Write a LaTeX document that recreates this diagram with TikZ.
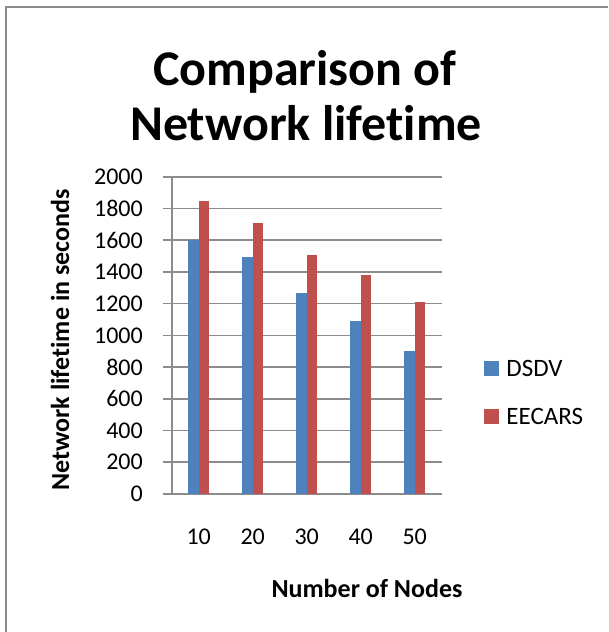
\documentclass[tikz,border=0pt]{standalone}
\usepackage{fontspec}
\setmainfont[Ligatures={NoCommon}]{Carlito}
\usetikzlibrary{positioning}
\definecolor{dsdvblue}{HTML}{4F81BD}
\definecolor{eecarsred}{HTML}{C0504D}
\definecolor{gridgray}{HTML}{8C8C8C}
\tikzset{gridline/.style = {draw=gridgray, line width=1.6pt},
         ticklabel/.style = {font=\fontsize{24}{28}\selectfont, inner sep=0pt},
         keylabel/.style = {font=\fontsize{25}{29}\selectfont, inner sep=0pt},
         axistitle/.style = {font=\bfseries\fontsize{26}{30}\selectfont, inner sep=0pt},
         charttitle/.style = {font=\bfseries\fontsize{50}{54}\selectfont, inner sep=0pt},
         key/.style = {minimum size=15pt, inner sep=0pt}}

\begin{document}
\begin{tikzpicture}[x=1pt, y=-1pt]
  \useasboundingbox (0,0) rectangle (608,632);

  % chart frame
  \draw[gridgray, line width=1.8pt] (6,632) -- (6,7) -- (608,7);

  % title
  \node [charttitle, anchor=base] (title1) at (305, 85)  {Comparison of};
  \node [charttitle, anchor=base] (title2) at (306, 140) {Network lifetime};

  % value axis with gridlines
  \foreach \v [count=\i] in {0,200,...,2000} {
    \draw [gridline] (162.7, {494-0.15865*\v}) -- (441.7, {494-0.15865*\v});
    \node [ticklabel, anchor=east] (y\i) at (143, {494-0.15865*\v}) {\v};
  }
  \draw [gridline] (171.7, 176.7) -- (171.7, 494);

  % bars, one pair per node count
  \foreach \n/\a/\b [count=\i] in {10/1600/1845, 20/1495/1710, 30/1270/1505, 40/1090/1378, 50/902/1208} {
    \pgfmathsetmacro\c{198.7+54*(\i-1)}
    \fill [dsdvblue]  ({\c-10.7}, 494) rectangle (\c, {494-0.15865*\a});
    \fill [eecarsred] (\c, 494) rectangle ({\c+10.7}, {494-0.15865*\b});
    \node [ticklabel] (x\i) at (\c, 537) {\n};
  }

  % axis titles
  \node [axistitle, rotate=90] (ytitle) at (60, 340) {Network lifetime in seconds};
  \node [axistitle] (xtitle) at (367, 588) {Number of Nodes};

  % legend
  \node [key, fill=dsdvblue]  (keydsdv)   at (491.5, 368) {};
  \node [key, fill=eecarsred] (keyeecars) at (491.5, 416) {};
  \node [keylabel, right=7pt of keydsdv]   (dsdv)   {DSDV};
  \node [keylabel, right=7pt of keyeecars] (eecars) {EECARS};
\end{tikzpicture}
\end{document}
